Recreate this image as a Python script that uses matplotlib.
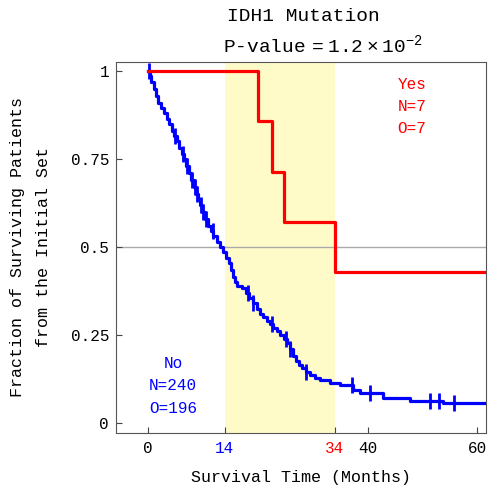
import numpy as np
import matplotlib
matplotlib.use("Agg")
import matplotlib.pyplot as plt

plt.rcParams["font.family"] = ["Liberation Mono", "DejaVu Sans Mono"]
plt.rcParams["mathtext.fontset"] = "custom"
plt.rcParams["mathtext.rm"] = "Liberation Mono"

# "No" group (N=240): step times (months) and survival after each step
no_t = [0.0, 0.3, 0.6, 1.0, 1.4, 1.9, 2.4, 2.9, 3.4, 3.9, 4.3, 4.8, 5.2, 5.7,
        6.1, 6.6, 7.0, 7.5, 7.9, 8.3, 8.7, 9.1, 9.5, 9.9, 10.4, 10.9, 11.4,
        11.9, 12.5, 13.1, 13.6, 14.2, 14.7, 15.1, 15.4, 15.8, 16.3, 17.2,
        17.8, 18.4, 19.1, 19.8, 20.4, 21.0, 21.7, 22.3, 22.8, 23.5, 24.1,
        24.7, 25.3, 25.9, 26.5, 27.0, 27.5, 28.1, 28.8, 29.5, 30.4, 31.4,
        33.2, 35.0, 37.4, 38.7, 42.9, 47.8, 53.8, 62.0]
no_s = [1.0, 0.985, 0.97, 0.95, 0.93, 0.91, 0.895, 0.88, 0.865, 0.85, 0.83,
        0.815, 0.80, 0.78, 0.765, 0.75, 0.73, 0.71, 0.69, 0.67, 0.65, 0.635,
        0.62, 0.60, 0.58, 0.56, 0.545, 0.53, 0.515, 0.50, 0.485, 0.47, 0.455,
        0.435, 0.415, 0.40, 0.39, 0.383, 0.37, 0.355, 0.34, 0.325, 0.31,
        0.30, 0.29, 0.28, 0.27, 0.26, 0.25, 0.238, 0.227, 0.21, 0.19, 0.175,
        0.165, 0.155, 0.145, 0.135, 0.128, 0.122, 0.114, 0.107, 0.095,
        0.086, 0.071, 0.0625, 0.056, 0.056]
no_cens = [0.1, 5.0, 6.4, 7.1, 8.0, 8.5, 9.0, 9.6, 10.0, 10.5, 11.8, 18.3,
           19.2, 22.6, 25.2, 25.9, 28.8, 37.2, 40.5, 51.3, 53.1, 55.8]

# "Yes" group (N=7)
yes_t = [0.0, 20.1, 22.6, 24.8, 34.0, 62.0]
yes_s = [1.0, 6 / 7, 5 / 7, 4 / 7, 3 / 7, 3 / 7]

xticks = [0, 14, 34, 40, 60]
yticks = [0, 0.25, 0.5, 0.75, 1]
ytick_labels = ["0", "0.25", "0.5", "0.75", "1"]

fig = plt.figure(figsize=(4.89, 4.86), dpi=100)
ax = fig.add_axes([0.2372, 0.1091, 0.7567, 0.7633])

ax.axvspan(14, 34, color="#fffbc8", lw=0, zorder=0)
ax.axhline(0.5, color="#aaaaaa", lw=1, zorder=1)

ax.step(no_t, no_s, where="post", color="blue", lw=2.3, zorder=3)
idx = np.searchsorted(no_t, no_cens, side="right") - 1
ax.plot(no_cens, np.array(no_s)[idx], ls="none", marker="|", ms=11,
        mew=2, color="blue", zorder=3)
ax.step(yes_t, yes_s, where="post", color="red", lw=2.3, zorder=4)

ax.set_xlim(-5.84, 61.6)
ax.set_ylim(-0.0284, 1.0256)
ax.set_xticks(xticks)
ax.set_xticklabels([str(v) for v in xticks])
ax.set_yticks(yticks)
ax.set_yticklabels(ytick_labels)
ax.tick_params(direction="in", labelsize=11.5, length=4, color="#444444")
ax.tick_params(axis="x", pad=6)
ax.tick_params(axis="y", pad=5)
for lbl in ax.get_xticklabels():
    if lbl.get_text() == "14":
        lbl.set_color("blue")
    elif lbl.get_text() == "34":
        lbl.set_color("red")
for sp in ax.spines.values():
    sp.set_color("#555555")

ax.set_xlabel("Survival Time (Months)", fontsize=12, labelpad=10)
ax.set_ylabel("Fraction of Surviving Patients\nfrom the Initial Set",
              fontsize=12, labelpad=14, linespacing=1.9)

ax.text(0.154, 0.127, "No\nN=240\nO=196", transform=ax.transAxes,
        color="blue", ha="center", va="center", fontsize=11.5,
        linespacing=1.65)
ax.text(0.8, 0.88, "Yes\nN=7\nO=7", transform=ax.transAxes, color="red",
        ha="center", va="center", fontsize=11.5, linespacing=1.6)

fig.text(0.62, 0.967, "IDH1 Mutation", ha="center", va="center", fontsize=14)
fig.text(0.456, 0.906, r"P-value$\,=1.2\times10^{-2}$", ha="left",
         va="center", fontsize=14)

fig.savefig("out.png", dpi=100)
